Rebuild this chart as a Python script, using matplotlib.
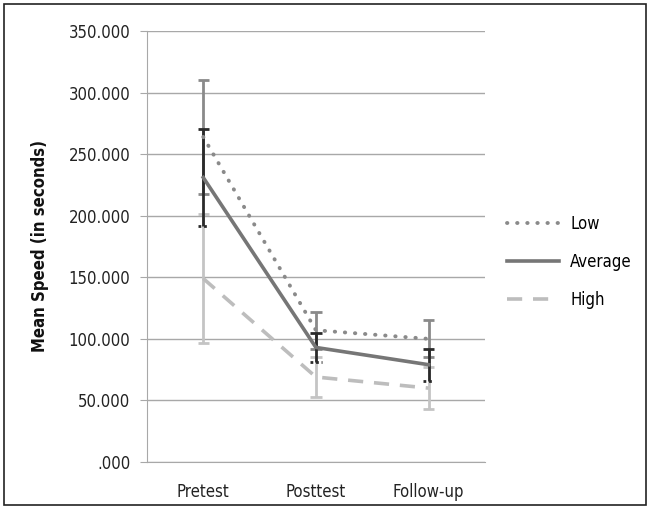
import matplotlib
matplotlib.use("Agg")
import matplotlib.pyplot as plt
from matplotlib.ticker import FuncFormatter, MultipleLocator
from matplotlib.patches import Rectangle
import numpy as np

categories = ["Pretest", "Posttest", "Follow-up"]
low_mean = [264, 107, 100]
low_err = [46, 15, 15]
avg_mean = [231, 93, 79]
avg_err = [39, 12, 13]
high_mean = [149, 69, 60]
high_err = [52, 16, 17]
series_names = ["Low", "Average", "High"]

plt.rcParams['font.family'] = ['DejaVu Sans']
plt.rcParams['font.stretch'] = 'condensed'

fig = plt.figure(figsize=(6.5, 5.08), dpi=100)
fig.patches.append(Rectangle((0.006, 0.006), 0.988, 0.986, transform=fig.transFigure,
                             fill=False, edgecolor='#222222', linewidth=1.2))
ax = fig.add_axes([0.226, 0.0906, 0.52, 0.8484])

x = np.arange(len(categories))
c_low, c_avg, c_high = '#8a8a8a', '#767676', '#bdbdbd'
eb_low, eb_avg, eb_high = '#8a8a8a', '#2a2a2a', '#c4c4c4'
capw = 0.05

def draw_err(means, errs, color, lower_cap_style='-', z=3):
    m = np.array(means, float); e = np.array(errs, float)
    ax.vlines(x, m - e, m + e, colors=color, linewidth=2, zorder=z)
    ax.hlines(m + e, x - capw, x + capw, colors=color, linewidth=2, zorder=z)
    ax.hlines(m - e, x - capw, x + capw, colors=color, linewidth=2,
              linestyles=lower_cap_style, zorder=z)

draw_err(low_mean, low_err, eb_low, z=3)
draw_err(avg_mean, avg_err, eb_avg, lower_cap_style=(0, (1, 1)), z=4)
draw_err(high_mean, high_err, eb_high, z=3.5)

l1, = ax.plot(x, low_mean, color=c_low, linewidth=2.8, linestyle=(0, (0.1, 2.5)),
              dash_capstyle='round', label=series_names[0], zorder=5)
l2, = ax.plot(x, avg_mean, color=c_avg, linewidth=2.6, label=series_names[1], zorder=5)
l3, = ax.plot(x, high_mean, color=c_high, linewidth=2.6, linestyle=(0, (4.2, 3)),
              label=series_names[2], zorder=5)

ax.set_xlim(-0.5, 2.5)
ax.set_ylim(0, 350)
ax.yaxis.set_major_locator(MultipleLocator(50))

def fmt(v, pos):
    s = f"{v:.3f}"
    if s.startswith("0"):
        s = s[1:]
    return s
ax.yaxis.set_major_formatter(FuncFormatter(fmt))
ax.set_xticks(x)
ax.set_xticklabels(categories)
ax.grid(axis='y', color='#a8a8a8', linewidth=1)
ax.set_axisbelow(True)
for s in ['top', 'right']:
    ax.spines[s].set_visible(False)
ax.spines['left'].set_color('#a8a8a8')
ax.spines['bottom'].set_color('#a8a8a8')
ax.tick_params(axis='y', length=5, color='#a8a8a8', labelsize=12, pad=7, labelcolor='#222222')
ax.tick_params(axis='x', length=0, labelsize=12, pad=15, labelcolor='#222222')
ax.set_ylabel("Mean Speed (in seconds)", fontsize=12, fontweight='bold', labelpad=14, color='#111111')

fig.legend(handles=[l1, l2, l3], loc='center left', bbox_to_anchor=(0.757, 0.484),
           frameon=False, fontsize=12, handlelength=3.1, labelspacing=1.2,
           handletextpad=0.7)

fig.savefig("out.png", dpi=100)
